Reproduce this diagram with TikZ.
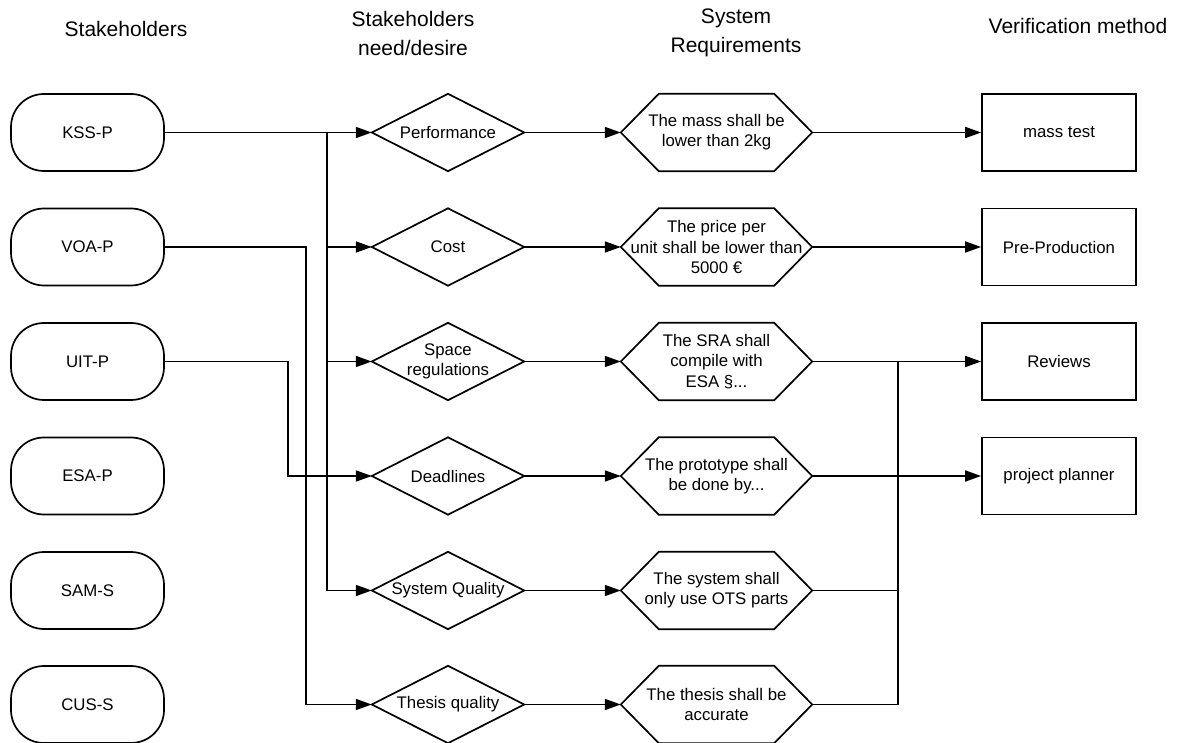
\documentclass[tikz,border=0pt]{standalone}
\usepackage{fontspec}
\setmainfont{Liberation Sans}
\usetikzlibrary{arrows.meta,calc}
\begin{document}
\begin{tikzpicture}[x=1pt,y=-1pt,
  line/.style={line width=1.7pt, black},
  arrow/.style={line, -{Triangle[length=16pt,width=11pt]}},
  body/.style={font=\fontsize{16.8pt}{20.3pt}\selectfont, align=center, inner sep=0pt},
  head/.style={font=\fontsize{21pt}{29pt}\selectfont, align=center, inner sep=0pt},
  stakebox/.style={body, line, draw, rounded corners=33pt, minimum width=153pt, minimum height=77pt},
  needbox/.style={body, minimum width=152pt, minimum height=77pt},
  reqbox/.style={body, minimum width=191pt, minimum height=77pt},
  verbox/.style={body, line, draw, minimum width=154pt, minimum height=77pt}]
\useasboundingbox (0,0) rectangle (1187,743);

% headers
\node[head] (hA) at (126,29) {Stakeholders};
\node[head] (hB) at (413,33) {Stakeholders\\need/desire};
\node[head] (hC) at (736,33) {System\\Requirements};
\node[head] (hD) at (1078,26) {Verification method};

% rows
\def\rA{132.5}\def\rB{247}\def\rC{361.5}\def\rD{476}\def\rE{590.5}\def\rF{704.5}

% stakeholders
\node[stakebox] (k1) at (87.5,\rA) {KSS-P};
\node[stakebox] (k2) at (87.5,\rB) {VOA-P};
\node[stakebox] (k3) at (87.5,\rC) {UIT-P};
\node[stakebox] (k4) at (87.5,\rD) {ESA-P};
\node[stakebox] (k5) at (87.5,\rE) {SAM-S};
\node[stakebox] (k6) at (87.5,\rF) {CUS-S};

% needs (diamonds)
\node[needbox] (d1) at (448,\rA) {Performance};
\node[needbox] (d2) at (448,\rB) {Cost};
\node[needbox] (d3) at (448,\rC) {Space\\regulations};
\node[needbox] (d4) at (448,\rD) {Deadlines};
\node[needbox] (d5) at (448,\rE) {System Quality};
\node[needbox] (d6) at (448,\rF) {Thesis quality};
\foreach \n in {d1,d2,d3,d4,d5,d6}
  \draw[line, line join=miter] (\n.west) -- (\n.north) -- (\n.east) -- (\n.south) -- cycle;

% requirements (hexagons)
\node[reqbox] (h1) at (716.5,\rA) {The mass shall be\\lower than 2kg};
\node[reqbox] (h2) at (716.5,\rB) {The price per\\unit shall be lower than\\5000 €};
\node[reqbox] (h3) at (716.5,\rC) {The SRA shall\\compile with\\ESA §...};
\node[reqbox] (h4) at (716.5,\rD) {The prototype shall\\be done by...};
\node[reqbox] (h5) at (716.5,\rE) {The system shall\\only use OTS parts};
\node[reqbox] (h6) at (716.5,\rF) {The thesis shall be\\accurate};
\foreach \n in {h1,h2,h3,h4,h5,h6}
  \draw[line, line join=miter] (\n.west) -- ([xshift=38pt]\n.north west) -- ([xshift=-38pt]\n.north east)
    -- (\n.east) -- ([xshift=-38pt]\n.south east) -- ([xshift=38pt]\n.south west) -- cycle;

% verification
\node[verbox] (v1) at (1059,\rA) {mass test};
\node[verbox] (v2) at (1059,\rB) {Pre-Production};
\node[verbox] (v3) at (1059,\rC) {Reviews};
\node[verbox] (v4) at (1059,\rD) {project planner};

% stakeholder -> need connectors
\coordinate (b1) at (327,\rA);
\coordinate (b2) at (306,\rB);
\coordinate (b3) at (288,\rC);
\draw[arrow] (k1.east) -- (d1.west);
\draw[arrow] (b1) |- (d2.west);
\draw[arrow] (b1) |- (d3.west);
\draw[arrow] (b1) |- (d5.west);
\draw[arrow] (k2.east) -- (b2) |- (d6.west);
\draw[arrow] (k3.east) -- (b3) |- (d4.west);

% need -> requirement
\foreach \i in {1,...,6}
  \draw[arrow] (d\i.east) -- (h\i.west);

% requirement -> verification
\draw[arrow] (h1.east) -- (v1.west);
\draw[arrow] (h2.east) -- (v2.west);
\draw[arrow] (h3.east) -- (v3.west);
\draw[arrow] (h4.east) -- (v4.west);
\coordinate (j) at (898,\rC);
\draw[line] (h5.east) -| (j);
\draw[line] (h6.east) -| (j);
\end{tikzpicture}
\end{document}
